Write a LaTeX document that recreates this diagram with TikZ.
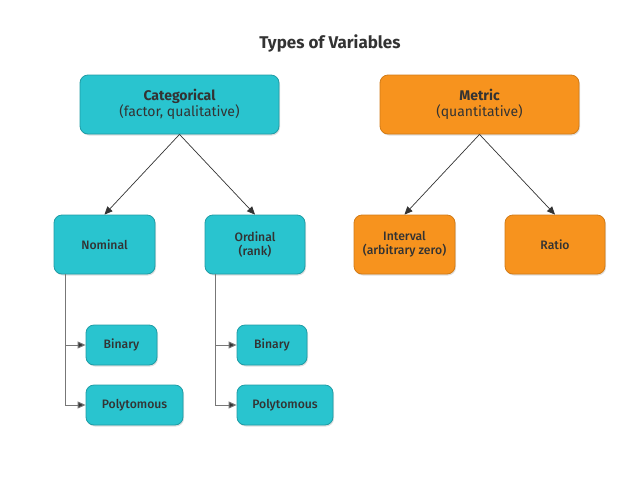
\documentclass[tikz,border=0pt]{standalone}
\usepackage{fontspec}
\setmainfont{Fira Sans}
\newfontfamily\medfont{Fira Sans}[UprightFont={* Medium}]
\usetikzlibrary{arrows.meta,shadows}
\definecolor{tealfill}{HTML}{29C4CF}
\definecolor{tealdraw}{HTML}{1E9CA5}
\definecolor{orfill}{HTML}{F7931E}
\definecolor{ordraw}{HTML}{D27B16}
\definecolor{txt}{HTML}{333333}
\definecolor{lin}{HTML}{777777}
\tikzset{
  box/.style={draw, rounded corners=8pt, line width=0.8pt, text=txt, align=center,
    inner sep=0pt, drop shadow={shadow xshift=1pt, shadow yshift=-1.5pt, opacity=0.25}},
  tealbox/.style={box, fill=tealfill, draw=tealdraw},
  orbox/.style={box, fill=orfill, draw=ordraw},
  arr/.style={draw=txt, line width=0.7pt, -{Triangle[length=8pt,width=7pt]}},
  arr2/.style={draw=lin, line width=1pt, -{Triangle[length=8pt,width=7pt,fill=txt]}},
  big/.style={font=\fontsize{14}{16.5}\selectfont},
  sml/.style={font=\fontsize{12.2}{14}\selectfont\medfont},
}
\begin{document}
\begin{tikzpicture}[x=1pt,y=-1pt]
\useasboundingbox (0,0) rectangle (640,480);
\node[text=txt, font=\fontsize{17}{19}\selectfont\bfseries] (title) at (330,43) {Types of Variables};
\node[tealbox, big, minimum width=199pt, minimum height=59pt] (cat) at (179.5,104.5)
  {\textbf{Categorical}\\(factor, qualitative)};
\node[orbox, big, minimum width=199pt, minimum height=59pt] (met) at (479.5,104.5)
  {\textbf{Metric}\\(quantitative)};
\node[tealbox, sml, minimum width=101pt, minimum height=59pt] (nom) at (104.5,244.5) {Nominal};
\node[tealbox, sml, minimum width=100pt, minimum height=59pt] (ord) at (255,244.5) {Ordinal\\(rank)};
\node[orbox, sml, minimum width=101pt, minimum height=59pt] (int) at (404.5,244.5) {Interval\\(arbitrary zero)};
\node[orbox, sml, minimum width=100pt, minimum height=59pt] (rat) at (555,244.5) {Ratio};
\node[tealbox, sml, minimum width=71pt, minimum height=40pt] (bin1) at (121.5,345) {Binary};
\node[tealbox, sml, minimum width=97pt, minimum height=40pt] (pol1) at (134.5,405) {Polytomous};
\node[tealbox, sml, minimum width=70pt, minimum height=40pt] (bin2) at (272,345) {Binary};
\node[tealbox, sml, minimum width=96pt, minimum height=40pt] (pol2) at (285,405) {Polytomous};
\draw[arr] (cat.south) -- (nom.north);
\draw[arr] (cat.south) -- (ord.north);
\draw[arr] (met.south) -- (int.north);
\draw[arr] (met.south) -- (rat.north);
\coordinate (n0) at ([xshift=-39.5pt]nom.south);
\coordinate (o0) at ([xshift=-40pt]ord.south);
\draw[arr2] (n0) |- (bin1.west);
\draw[arr2] (n0) |- (pol1.west);
\draw[arr2] (o0) |- (bin2.west);
\draw[arr2] (o0) |- (pol2.west);
\end{tikzpicture}
\end{document}
